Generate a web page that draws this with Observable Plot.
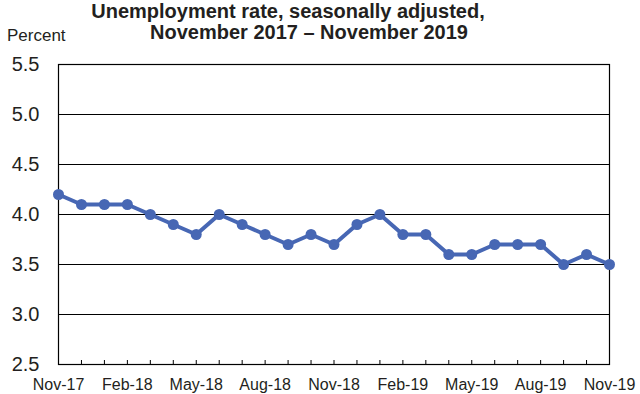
<!DOCTYPE html>
<html>
<head>
<meta charset="utf-8">
<script src="https://cdn.jsdelivr.net/npm/d3@7"></script>
<script src="https://cdn.jsdelivr.net/npm/@observablehq/plot@0.6"></script>
<style>
  html, body { margin: 0; padding: 0; background: #fff; }
  #wrap { position: relative; width: 640px; height: 394px; font-family: "Liberation Sans", Arial, sans-serif; color: #231f20; }
  .t { position: absolute; white-space: nowrap; font-weight: bold; font-size: 20px; line-height: 23px; transform: translateX(-50%); }
  #pct { position: absolute; left: 7px; top: 26px; font-size: 17px; line-height: 20px; white-space: nowrap; }
  svg { position: absolute; left: 0; top: 0; }
</style>
</head>
<body>
<div id="wrap">
  <div class="t" id="t1" style="left:288px; top:0px;"></div>
  <div class="t" id="t2" style="left:309px; top:21px;"></div>
  <div id="pct"></div>
</div>
<script>
const titleLines = ["Unemployment rate, seasonally adjusted,", "November 2017 \u2013 November 2019"];
const yLabel = "Percent";
const months = ["Nov-17","Dec-17","Jan-18","Feb-18","Mar-18","Apr-18","May-18","Jun-18","Jul-18","Aug-18","Sep-18","Oct-18","Nov-18","Dec-18","Jan-19","Feb-19","Mar-19","Apr-19","May-19","Jun-19","Jul-19","Aug-19","Sep-19","Oct-19","Nov-19"];
const rates = [4.2,4.1,4.1,4.1,4.0,3.9,3.8,4.0,3.9,3.8,3.7,3.8,3.7,3.9,4.0,3.8,3.8,3.6,3.6,3.7,3.7,3.7,3.5,3.6,3.5];
const yTicks = [2.5,3.0,3.5,4.0,4.5,5.0,5.5];
const gridTicks = [3.0,3.5,4.0,4.5,5.0];
const xLabelEvery = 3;

document.getElementById("t1").textContent = titleLines[0];
document.getElementById("t2").textContent = titleLines[1];
document.getElementById("pct").textContent = yLabel;

const data = months.map((m, i) => ({i, month: m, rate: rates[i]}));
const idx = months.map((m, i) => i);
const labelIdx = idx.filter(i => i % xLabelEvery === 0);
const color = "#4767b4";

const chart = Plot.plot({
  width: 640,
  height: 394,
  marginLeft: 58,
  marginRight: 31,
  marginTop: 64,
  marginBottom: 30,
  style: {fontFamily: "Liberation Sans, Arial, sans-serif", color: "#231f20", background: "transparent"},
  x: {domain: [0, months.length - 1], label: null},
  y: {domain: [2.5, 5.5], label: null},
  marks: [
    Plot.gridY(gridTicks, {stroke: "#000", strokeOpacity: 1, strokeWidth: 1}),
    Plot.frame({stroke: "#000", strokeWidth: 1.2}),
    Plot.axisY(yTicks, {tickSize: 0, tickPadding: 19, fontSize: 20, label: null, tickFormat: d => d.toFixed(1)}),
    Plot.axisX(idx, {tickSize: -4, text: null, label: null, stroke: "#000"}),
    Plot.axisX(labelIdx, {tickSize: 0, tickPadding: 14, fontSize: 16, label: null, tickFormat: i => months[i]}),
    Plot.line(data, {x: "i", y: "rate", stroke: color, strokeWidth: 4}),
    Plot.dot(data, {x: "i", y: "rate", fill: color, r: 5.5})
  ]
});
document.getElementById("wrap").prepend(chart);
</script>
</body>
</html>
